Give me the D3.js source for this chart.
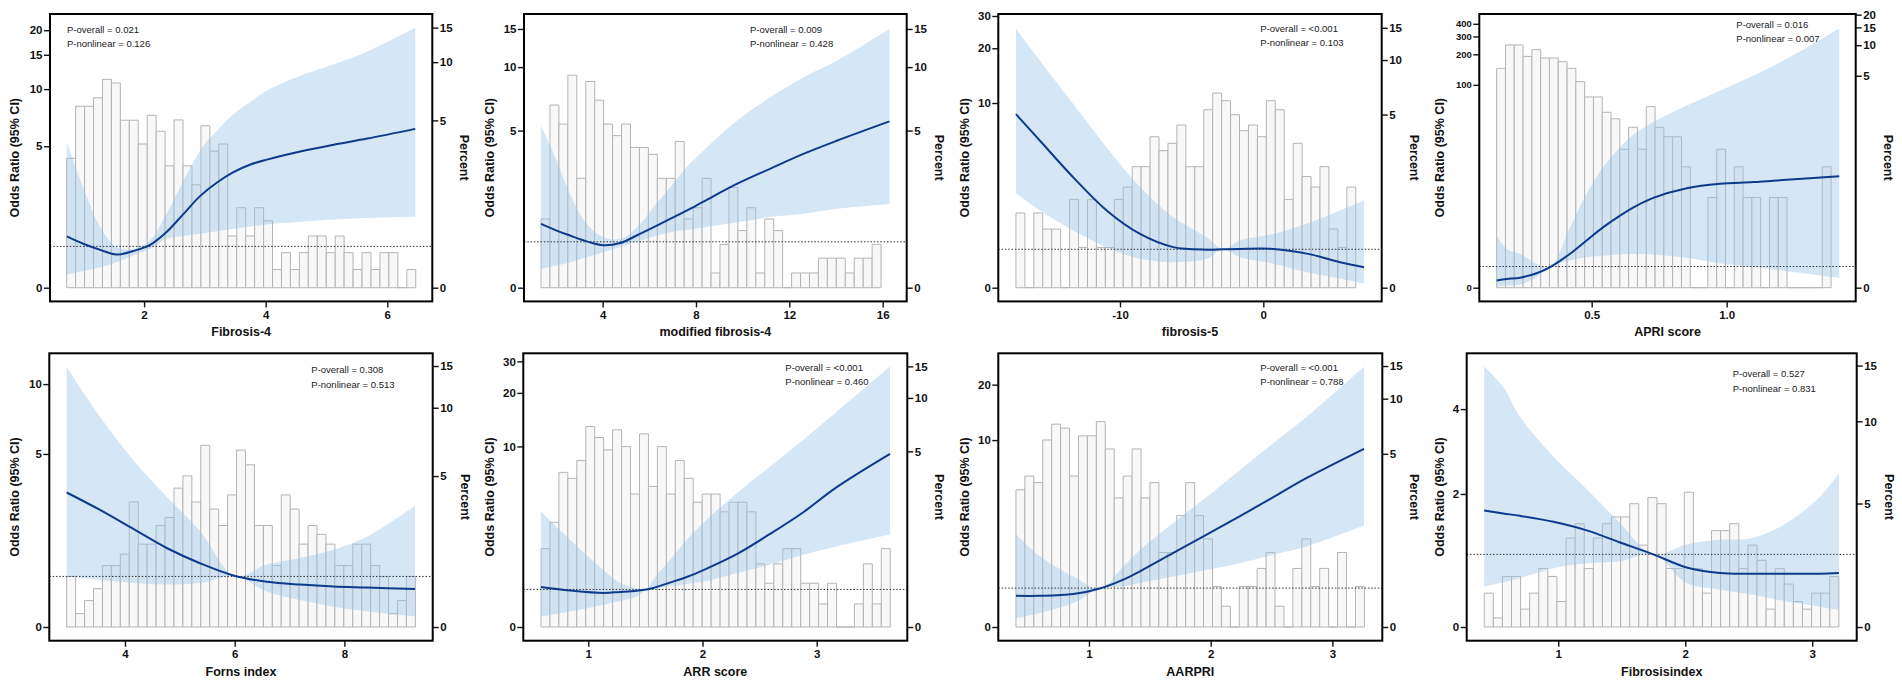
<!DOCTYPE html>
<html>
<head>
<meta charset="utf-8">
<title>Restricted cubic spline plots</title>
<style>
  html, body { margin: 0; padding: 0; background: #fff; }
  svg { display: block; font-family: "Liberation Sans", Arial, Helvetica, sans-serif; }
  .tick text { font-size: 11.5px; font-weight: bold; fill: #111; }
  .tick line { stroke: #111; stroke-width: 1.4; }
  .domain { display: none; }
  .ttl { font-size: 12.5px; font-weight: bold; fill: #111; }
  .ptxt { font-size: 9.5px; fill: #222; }
</style>
</head>
<body>
<svg id="chart" width="1902" height="685"></svg>
<script src="https://cdnjs.cloudflare.com/ajax/libs/d3/7.8.5/d3.min.js"></script>
<script>
// ---- labels ----
const xTitles = ["Fibrosis-4", "modified fibrosis-4", "fibrosis-5", "APRI score",
                 "Forns index", "ARR score", "AARPRI", "Fibrosisindex"];
const pOverall = ["0.021", "0.009", "<0.001", "0.016", "0.308", "<0.001", "<0.001", "0.527"];
const pNonlinear = ["0.126", "0.428", "0.103", "0.007", "0.513", "0.460", "0.788", "0.831"];

// ---- axis ticks / domains ----
const leftTicks = [[0, 5, 10, 15, 20], [0, 5, 10, 15], [0, 10, 20, 30], [0, 100, 200, 300, 400],
                   [0, 5, 10], [0, 10, 20, 30], [0, 10, 20], [0, 2, 4]];
const rightTicks = [[0, 5, 10, 15], [0, 5, 10, 15], [0, 5, 10, 15], [0, 5, 10, 15, 20],
                    [0, 5, 10, 15], [0, 5, 10, 15], [0, 5, 10, 15], [0, 5, 10, 15]];
const xTicks = [[2, 4, 6], [4, 8, 12, 16], [-10, 0], [0.5, 1.0], [4, 6, 8], [1, 2, 3], [1, 2, 3], [1, 2, 3]];
const xDomains = [[0.453, 6.74], [0.63, 17.03], [-18.49, 8.26], [0.0837, 1.478],
                  [2.62, 9.61], [0.431, 3.793], [0.255, 3.41], [0.279, 3.35]];
const orMax = [20.6, 15.2, 25.9, 366, 11.8, 27.9, 24.9, 5.42];       // top of OR data range
const pctScale = [1.375, 1.0, 1.725, 24.6, 0.794, 1.875, 1.68, 0.365]; // percent -> OR units
const binStart = [0.727, 1.359, -17.26, 0.148, 2.937, 0.586, 0.400, 0.417];
const binWidth = [0.1472, 0.3835, 0.624, 0.0326, 0.163, 0.0784, 0.0734, 0.0716];

// ---- histograms (percent) ----
const fib4Bars = [3.12, 5.93, 5.93, 6.56, 8.16, 7.82, 5.01, 5.01, 3.74, 5.32, 4.38, 2.83, 5.03, 2.83, 2.19, 4.68, 3.42, 3.74, 0.93, 1.56, 0.93, 1.56, 1.25, 0.31, 0.61, 0.31, 0.61, 0.93, 0.93, 0.61, 0.93, 0.61, 0.31, 0.61, 0.31, 0.61, 0.61, 0, 0.31];
const mfib4Bars = [1.57, 6.64, 5.38, 9.17, 2.83, 8.57, 7.0, 5.38, 4.72, 5.38, 4.12, 4.12, 3.8, 2.83, 2.83, 4.42, 1.57, 1.88, 2.83, 0.31, 0.94, 2.51, 1.27, 1.88, 0.31, 1.57, 1.27, 0, 0.31, 0.31, 0.31, 0.63, 0.63, 0.63, 0.31, 0.63, 0.63, 0.94];
const fib5Bars = [1.25, 0, 1.25, 0.93, 0.93, 0, 1.56, 0.61, 1.56, 0.61, 0.61, 1.56, 1.88, 2.51, 2.51, 3.75, 3.12, 3.44, 4.37, 2.51, 2.51, 5.32, 6.58, 5.97, 4.99, 4.06, 4.37, 3.75, 5.97, 5.32, 1.56, 3.44, 2.19, 1.88, 2.51, 0.93, 0.61, 1.88];
const apriBars = [5.91, 10.05, 10.05, 7.76, 9.04, 7.48, 7.48, 6.88, 5.91, 4.37, 3.09, 3.09, 2.18, 1.88, 0.94, 1.55, 0.94, 2.48, 1.55, 1.25, 1.25, 0.63, 0, 0, 0.31, 0.94, 0, 0.63, 0.31, 0.31, 0, 0.31, 0.31, 0, 0, 0, 0, 0.63];
const fornsBars = [1.26, 0.32, 0.64, 0.94, 1.56, 1.56, 1.89, 3.76, 2.20, 2.20, 2.83, 3.13, 4.39, 5.01, 3.76, 6.88, 3.46, 2.83, 4.07, 6.55, 5.63, 2.83, 2.83, 1.56, 4.07, 3.46, 2.20, 2.83, 2.52, 2.20, 1.56, 1.56, 2.20, 2.20, 1.56, 1.26, 0.32, 0.64, 1.26];
const arrBars = [1.26, 1.90, 3.79, 3.50, 4.43, 6.91, 5.99, 5.10, 6.62, 5.32, 2.83, 6.28, 3.14, 5.32, 2.83, 4.43, 3.50, 2.53, 2.83, 2.83, 2.21, 2.53, 2.53, 2.21, 0.96, 0.63, 0.96, 1.26, 1.26, 0.63, 0.63, 0.32, 0.63, 0, 0, 0.32, 0.96, 0.32, 1.26];
const aarpriBars = [3.14, 3.76, 3.45, 5.96, 7.27, 6.92, 3.76, 6.28, 6.28, 7.51, 5.32, 2.82, 3.76, 5.32, 2.82, 3.45, 1.26, 1.26, 2.21, 3.45, 2.21, 1.57, 0.62, 0.31, 0, 0.62, 0.62, 0.94, 1.26, 0.31, 0, 0.94, 1.57, 0.62, 0.94, 0, 1.26, 0, 0.62];
const fibIdxBars = [1.24, 0.33, 1.87, 1.87, 0.65, 1.24, 2.18, 1.87, 0.93, 3.42, 4.05, 2.18, 3.42, 4.05, 4.36, 4.36, 4.99, 3.12, 5.30, 4.99, 2.18, 2.18, 5.57, 2.18, 1.24, 3.74, 3.74, 4.05, 2.18, 3.12, 2.50, 0.65, 2.18, 1.58, 0.93, 0.65, 1.24, 1.24, 1.87];

// ---- spline estimates and 95% CI (odds ratio) ----
const fib4X   = [0.73, 1.00, 1.28, 1.55, 1.82, 2.10, 2.37, 2.65, 2.92, 3.20, 3.47, 3.75, 4.02, 4.57, 5.12, 5.67, 6.46];
const fib4Est = [1.27, 1.07, 0.91, 0.79, 0.88, 1.04, 1.39, 1.94, 2.56, 3.11, 3.58, 3.96, 4.22, 4.68, 5.10, 5.50, 6.20];
const fib4Hi  = [5.24, 2.90, 1.53, 0.98, 0.93, 1.16, 1.94, 3.20, 4.73, 6.07, 7.40, 8.60, 9.80, 11.7, 13.4, 15.6, 20.6];
const fib4Lo  = [0.31, 0.39, 0.48, 0.60, 0.77, 0.93, 1.20, 1.28, 1.34, 1.41, 1.48, 1.55, 1.61, 1.69, 1.76, 1.81, 1.85];

const mfib4X   = [1.36, 2.03, 2.60, 3.32, 4.03, 4.75, 5.46, 6.17, 6.89, 7.60, 8.32, 9.75, 11.17, 12.6, 14.03, 16.29];
const mfib4Est = [1.44, 1.27, 1.15, 1.01, 0.92, 0.97, 1.15, 1.35, 1.57, 1.80, 2.06, 2.63, 3.19, 3.82, 4.45, 5.54];
const mfib4Hi  = [5.29, 3.53, 2.30, 1.44, 1.11, 1.07, 1.35, 1.89, 2.51, 3.26, 3.97, 5.58, 7.20, 8.94, 10.7, 15.0];
const mfib4Lo  = [0.40, 0.47, 0.54, 0.65, 0.76, 0.88, 1.00, 1.12, 1.23, 1.29, 1.35, 1.48, 1.62, 1.71, 1.85, 1.99];

const fib5X   = [-17.26, -15.58, -13.26, -10.93, -8.60, -6.28, -3.95, -2.79, -1.63, 0.70, 3.03, 5.35, 7.03];
const fib5Est = [8.68, 6.14, 3.73, 2.25, 1.45, 1.06, 0.99, 1.00, 1.01, 1.01, 0.88, 0.65, 0.52];
const fib5Hi  = [25.6, 17.1, 9.87, 5.62, 3.24, 2.00, 1.35, 1.00, 1.25, 1.45, 1.78, 2.25, 2.64];
const fib5Lo  = [2.96, 2.25, 1.56, 1.06, 0.74, 0.65, 0.74, 1.00, 0.78, 0.61, 0.39, 0.23, 0.10];

const apriX   = [0.148, 0.185, 0.234, 0.296, 0.346, 0.420, 0.481, 0.543, 0.605, 0.667, 0.728, 0.852, 0.975, 1.099, 1.222, 1.417];
const apriEst = [0.33, 0.40, 0.46, 0.67, 0.97, 1.70, 2.58, 3.70, 4.95, 6.30, 7.56, 9.46, 10.5, 10.9, 11.5, 12.5];
const apriHi  = [2.98, 2.00, 1.70, 1.14, 0.97, 3.70, 8.3, 15.4, 24.2, 34.0, 42.7, 62.4, 87.7, 123, 180, 360];
const apriLo  = [0.06, 0.10, 0.15, 0.48, 0.97, 1.32, 1.50, 1.58, 1.66, 1.68, 1.66, 1.47, 1.17, 0.97, 0.77, 0.46];

const fornsX   = [2.937, 3.544, 4.152, 4.760, 5.368, 6.006, 6.584, 7.192, 7.80, 8.41, 9.289];
const fornsEst = [3.32, 2.72, 2.15, 1.65, 1.29, 1.01, 0.89, 0.83, 0.79, 0.77, 0.74];
const fornsHi  = [11.8, 7.26, 4.69, 3.17, 2.09, 1.01, 1.26, 1.41, 1.61, 1.94, 2.86];
const fornsLo  = [1.00, 0.93, 0.86, 0.83, 0.86, 1.01, 0.69, 0.52, 0.39, 0.30, 0.20];

const arrX   = [0.586, 0.840, 1.131, 1.278, 1.424, 1.511, 1.569, 1.715, 1.862, 2.007, 2.300, 2.591, 2.883, 3.175, 3.642];
const arrEst = [1.07, 0.97, 0.90, 0.93, 0.965, 1.00, 1.04, 1.20, 1.37, 1.59, 2.15, 2.99, 4.12, 5.83, 9.08];
const arrHi  = [4.16, 2.73, 1.60, 1.19, 1.04, 1.00, 1.29, 1.94, 2.73, 3.53, 5.37, 7.68, 10.9, 15.7, 28.1];
const arrLo  = [0.27, 0.40, 0.58, 0.68, 0.80, 1.00, 1.02, 1.09, 1.16, 1.23, 1.49, 1.77, 2.13, 2.45, 2.96];

const aarpriX   = [0.400, 0.597, 0.871, 1.090, 1.282, 1.419, 1.693, 1.967, 2.241, 2.514, 2.789, 3.260];
const aarpriEst = [0.79, 0.79, 0.84, 0.99, 1.24, 1.49, 2.10, 2.82, 3.69, 4.78, 6.16, 8.95];
const aarpriHi  = [2.84, 1.98, 1.33, 0.99, 1.64, 2.21, 3.35, 4.80, 6.84, 9.62, 13.4, 25.0];
const aarpriLo  = [0.22, 0.35, 0.60, 0.99, 1.05, 1.14, 1.33, 1.54, 1.75, 2.04, 2.34, 3.22];

const fibIdxX   = [0.417, 0.567, 0.698, 0.961, 1.224, 1.486, 1.748, 2.011, 2.273, 2.535, 2.798, 3.061, 3.21];
const fibIdxEst = [1.70, 1.65, 1.61, 1.51, 1.37, 1.18, 1.00, 0.81, 0.73, 0.72, 0.72, 0.72, 0.73];
const fibIdxHi  = [5.44, 4.70, 3.78, 2.77, 2.09, 1.49, 1.00, 1.15, 1.22, 1.25, 1.49, 1.95, 2.41];
const fibIdxLo  = [0.54, 0.60, 0.66, 0.80, 0.87, 0.90, 1.00, 0.59, 0.50, 0.43, 0.34, 0.27, 0.23];

// ---- layout (pixel boxes: left, top, right, bottom) ----
const boxes = [
  [50, 14, 432.3, 301.4], [524, 14, 906.7, 301.4], [998.3, 14, 1381.7, 301.4], [1479.3, 14, 1855.7, 301.4],
  [49.3, 353.3, 432.7, 640.7], [523.3, 353.3, 907.3, 640.7], [998.3, 353.3, 1382.3, 640.7], [1466.7, 353.3, 1856.7, 640.7]
];
const pTextPos = [[17, 19], [226, 19], [262, 17.5], [257, 13.5], [262, 20.2], [262, 17.5], [262, 17.5], [266, 24.2]];
const yTitleOff = [35, 34, 33, 39, 34, 33, 33, 27];

const panels = [
  { x: fib4X, est: fib4Est, lo: fib4Lo, hi: fib4Hi, bars: fib4Bars },
  { x: mfib4X, est: mfib4Est, lo: mfib4Lo, hi: mfib4Hi, bars: mfib4Bars },
  { x: fib5X, est: fib5Est, lo: fib5Lo, hi: fib5Hi, bars: fib5Bars },
  { x: apriX, est: apriEst, lo: apriLo, hi: apriHi, bars: apriBars },
  { x: fornsX, est: fornsEst, lo: fornsLo, hi: fornsHi, bars: fornsBars },
  { x: arrX, est: arrEst, lo: arrLo, hi: arrHi, bars: arrBars },
  { x: aarpriX, est: aarpriEst, lo: aarpriLo, hi: aarpriHi, bars: aarpriBars },
  { x: fibIdxX, est: fibIdxEst, lo: fibIdxLo, hi: fibIdxHi, bars: fibIdxBars }
];

const svg = d3.select("#chart");
svg.append("rect").attr("width", 1902).attr("height", 685).attr("fill", "#fff");

const curve = d3.curveCatmullRom.alpha(0.5);

panels.forEach((pd, k) => {
  const [L, T, R, B] = boxes[k];
  const w = R - L, h = B - T, pad = 13.7;
  const g = svg.append("g").attr("transform", `translate(${L},${T})`);

  const xs = d3.scaleLinear().domain(xDomains[k]).range([0, w]);
  // pseudo-log (asinh) y axis, as in the original
  const yT = d3.scaleLinear().domain([0, Math.asinh(orMax[k] / 2)]).range([h - pad, pad]);
  const yOR = v => yT(Math.asinh(v / 2));
  const yPct = p => yT(Math.asinh(p * pctScale[k] / 2));

  g.append("clipPath").attr("id", "clip" + k)
    .append("rect").attr("width", w).attr("height", h);
  const plot = g.append("g").attr("clip-path", `url(#clip${k})`);

  // histogram
  plot.append("g").selectAll("path").data(pd.bars).join("path")
    .attr("d", (d, i) => {
      const x0 = xs(binStart[k] + i * binWidth[k]);
      const x1 = xs(binStart[k] + (i + 1) * binWidth[k]);
      const y0 = yPct(0), y1 = yPct(d);
      return `M${x0},${y0}V${y1}H${x1}V${y0}Z`;
    })
    .attr("fill", "#f8f8f8")
    .attr("stroke", "#b4b4b4")
    .attr("stroke-width", 1);

  const idx = d3.range(pd.x.length);

  // confidence band
  plot.append("path")
    .datum(idx)
    .attr("d", d3.area()
      .x(i => xs(pd.x[i]))
      .y0(i => yOR(pd.lo[i]))
      .y1(i => yOR(pd.hi[i]))
      .curve(curve))
    .attr("fill", "#9cc3e6")
    .attr("fill-opacity", 0.42);

  // reference line OR = 1
  plot.append("line")
    .attr("x1", 0).attr("x2", w)
    .attr("y1", yOR(1)).attr("y2", yOR(1))
    .attr("stroke", "#333")
    .attr("stroke-width", 1)
    .attr("stroke-dasharray", "1.5,1.8");

  // estimate
  plot.append("path")
    .datum(idx)
    .attr("d", d3.line().x(i => xs(pd.x[i])).y(i => yOR(pd.est[i])).curve(curve))
    .attr("fill", "none")
    .attr("stroke", "#0c3b8c")
    .attr("stroke-width", 2);

  // frame
  g.append("rect")
    .attr("width", w).attr("height", h)
    .attr("fill", "none").attr("stroke", "#000").attr("stroke-width", 2);

  // axes
  const lt = leftTicks[k];
  const la = g.append("g").call(d3.axisLeft(yT)
    .tickValues(lt.map(v => Math.asinh(v / 2)))
    .tickFormat((d, i) => lt[i])
    .tickSize(6).tickPadding(1.5));
  if (k === 3) la.selectAll(".tick text").style("font-size", "9.5px");

  const rt = rightTicks[k];
  g.append("g").attr("transform", `translate(${w},0)`)
    .call(d3.axisRight(yT)
      .tickValues(rt.map(v => Math.asinh(v * pctScale[k] / 2)))
      .tickFormat((d, i) => rt[i])
      .tickSize(6).tickPadding(1.5));

  g.append("g").attr("transform", `translate(0,${h})`)
    .call(d3.axisBottom(xs)
      .tickValues(xTicks[k])
      .tickFormat(d => k === 3 ? d.toFixed(1) : String(d))
      .tickSize(6).tickPadding(3));

  // titles
  g.append("text").attr("class", "ttl")
    .attr("transform", `translate(${-yTitleOff[k]},${h / 2}) rotate(-90)`)
    .attr("text-anchor", "middle").attr("dominant-baseline", "central")
    .text("Odds Ratio (95% CI)");

  g.append("text").attr("class", "ttl")
    .attr("transform", `translate(${w + 32},${h / 2}) rotate(90)`)
    .attr("text-anchor", "middle").attr("dominant-baseline", "central")
    .text("Percent");

  g.append("text").attr("class", "ttl")
    .attr("x", w / 2).attr("y", h + 31)
    .attr("text-anchor", "middle").attr("dominant-baseline", "central")
    .text(xTitles[k]);

  // p-values
  const [px, py] = pTextPos[k];
  g.append("text").attr("class", "ptxt").attr("x", px).attr("y", py)
    .text("P-overall = " + pOverall[k]);
  g.append("text").attr("class", "ptxt").attr("x", px).attr("y", py + 14.3)
    .text("P-nonlinear = " + pNonlinear[k]);
});
</script>
</body>
</html>
